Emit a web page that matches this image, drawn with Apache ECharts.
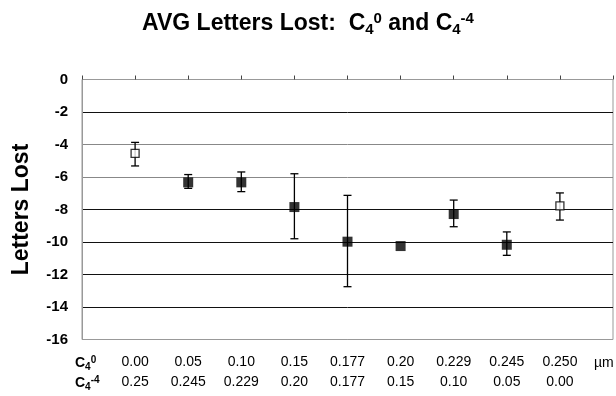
<!DOCTYPE html>
<html><head><meta charset="utf-8">
<script src="https://cdn.jsdelivr.net/npm/echarts@6/dist/echarts.min.js"></script>
<style>html,body{margin:0;padding:0;background:#fff}#c{width:616px;height:396px}</style>
</head><body><div id="c"></div>
<script>
const c40 = ['0.00','0.05','0.10','0.15','0.177','0.20','0.229','0.245','0.250'];
const c4m4 = ['0.25','0.245','0.229','0.20','0.177','0.15','0.10','0.05','0.00'];
const means = [-4.55, -6.33, -6.33, -7.85, -9.98, -10.25, -8.28, -10.17, -7.78];
const errHigh = [-3.87, -5.85, -5.69, -5.8, -7.13, null, -7.42, -9.38, -6.98];
const errLow = [-5.32, -6.7, -6.9, -9.8, -12.75, null, -9.06, -10.82, -8.65];
const openIdx = [0, 8];
const yTicks = [0,-2,-4,-6,-8,-10,-12,-14,-16];

const filled = [], open = [], errs = [];
means.forEach((v,i)=>{
  const p = [i+1, v];
  (openIdx.includes(i) ? open : filled).push(p);
  if (errHigh[i] != null) errs.push([i+1, errLow[i], errHigh[i]]);
});

const font = 'Liberation Sans, Arial, sans-serif';
const chart = echarts.init(document.getElementById('c'));
chart.setOption({
  animation:false,
  backgroundColor:'#fff',
  title:{
    text:'{t|AVG Letters Lost:  C}{s|4}{p|0}{t| and C}{s|4}{p|-4}',
    left:'center', top:6,
    textStyle:{rich:{
      t:{fontFamily:font,fontWeight:'bold',fontSize:23,color:'#000'},
      s:{fontFamily:font,fontWeight:'bold',fontSize:15,color:'#000',verticalAlign:'bottom',padding:[9,0,0,0]},
      p:{fontFamily:font,fontWeight:'bold',fontSize:15,color:'#000',verticalAlign:'top',padding:[0,0,11,0]}
    }}
  },
  grid:{left:82,right:2,top:79.5,bottom:56.5,show:true,borderColor:'#999',borderWidth:1},
  xAxis:{
    type:'value',min:0,max:10,interval:1,
    axisLine:{show:false},
    splitLine:{show:false},
    axisTick:{show:true,inside:true,length:4,lineStyle:{color:'#444'}},
    axisLabel:{
      margin:13,lineHeight:20,
      fontFamily:font,fontSize:14,color:'#000',
      formatter:(v)=>{const i=Math.round(v)-1; return (i>=0&&i<9)? c40[i]+'\n'+c4m4[i] : '';}
    }
  },
  yAxis:{
    type:'value',min:-16,max:0,interval:2,
    name:'Letters Lost',nameLocation:'middle',nameGap:49,nameRotate:90,
    nameTextStyle:{fontFamily:font,fontWeight:'bold',fontSize:23,color:'#000'},
    axisLine:{show:true,lineStyle:{color:'#999'}},
    axisTick:{show:false},
    axisLabel:{margin:14,fontFamily:font,fontWeight:'bold',fontSize:15,color:'#000',
      formatter:(v)=> yTicks.includes(v) ? String(v) : ''},
    splitLine:{show:true,lineStyle:{width:1,color:['#999','#111','#111','#111','#111','#888','#888','#111','#999']}}
  },
  graphic:[
    {type:'text',left:75,top:355,style:{text:'{c|C}{s|4}{p|0}',rich:{
      c:{fontFamily:font,fontWeight:'bold',fontSize:14,color:'#000'},
      s:{fontFamily:font,fontWeight:'bold',fontSize:10,color:'#000',verticalAlign:'bottom',padding:[6,0,0,0]},
      p:{fontFamily:font,fontWeight:'bold',fontSize:10,color:'#000',verticalAlign:'top',padding:[0,0,7,0]}}}},
    {type:'text',left:75,top:375,style:{text:'{c|C}{s|4}{p|-4}',rich:{
      c:{fontFamily:font,fontWeight:'bold',fontSize:14,color:'#000'},
      s:{fontFamily:font,fontWeight:'bold',fontSize:10,color:'#000',verticalAlign:'bottom',padding:[6,0,0,0]},
      p:{fontFamily:font,fontWeight:'bold',fontSize:10,color:'#000',verticalAlign:'top',padding:[0,0,7,0]}}}},
    {type:'text',left:594,top:356,style:{text:'µm',fontFamily:font,fontSize:14,fill:'#000'}}
  ],
  series:[
    {type:'custom',data:errs,z:2,silent:true,
     renderItem:(params,api)=>{
       const x=api.value(0);
       const lo=api.coord([x,api.value(1)]), hi=api.coord([x,api.value(2)]);
       const w=4;
       const st={stroke:'#000',lineWidth:1.3};
       return {type:'group',children:[
         {type:'line',shape:{x1:lo[0],y1:lo[1],x2:hi[0],y2:hi[1]},style:st},
         {type:'line',shape:{x1:lo[0]-w,y1:lo[1],x2:lo[0]+w,y2:lo[1]},style:st},
         {type:'line',shape:{x1:hi[0]-w,y1:hi[1],x2:hi[0]+w,y2:hi[1]},style:st}
       ]};
     }},
    {type:'scatter',data:filled,symbol:'rect',symbolSize:10,z:3,
     itemStyle:{color:'#000'}},
    {type:'scatter',data:open,symbol:'rect',symbolSize:8,z:3,
     itemStyle:{color:'#fff',borderColor:'#000',borderWidth:1.3}}
  ]
});
</script></body></html>
